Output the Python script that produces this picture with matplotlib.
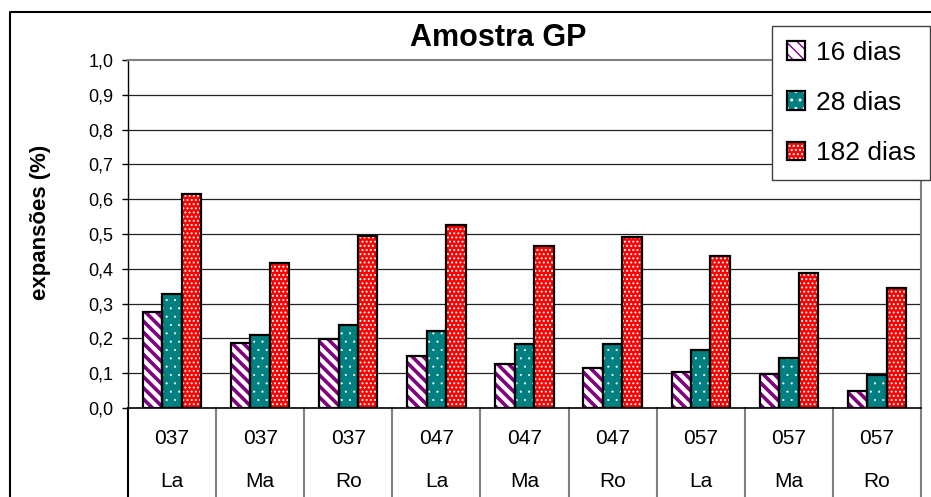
import matplotlib.pyplot as plt
from matplotlib.legend_handler import HandlerTuple
from matplotlib.lines import Line2D
import numpy as np

plt.rcParams['font.family'] = ['Liberation Sans', 'DejaVu Sans']

# data
amostras = ["037", "037", "037", "047", "047", "047", "057", "057", "057"]
locais = ["La", "Ma", "Ro", "La", "Ma", "Ro", "La", "Ma", "Ro"]
series_names = ["16 dias", "28 dias", "182 dias"]
d16 = [0.277, 0.188, 0.199, 0.148, 0.127, 0.116, 0.104, 0.099, 0.050]
d28 = [0.327, 0.209, 0.238, 0.222, 0.183, 0.183, 0.166, 0.145, 0.095]
d182 = [0.615, 0.416, 0.495, 0.527, 0.466, 0.492, 0.438, 0.389, 0.344]
yticks = [0.0, 0.1, 0.2, 0.3, 0.4, 0.5, 0.6, 0.7, 0.8, 0.9, 1.0]

# (face, hatch colour, hatch, hatch linewidth)
styles = [("white", "#800080", "\\\\\\", 2.6),
          ("#008080", "white", "..", 0.3),
          ("#FF0000", "white", "....", 0.9)]

W, H = 931, 497
fig = plt.figure(figsize=(W / 100, H / 100), dpi=100)
ax = fig.add_axes([128 / W, 1 - 408 / H, (921 - 128) / W, (408 - 60) / H])

x = np.arange(len(amostras))
bw = 0.221
handles = []
for i, vals in enumerate([d16, d28, d182]):
    fc, hc, h, hlw = styles[i]
    pos = x + (i - 1) * bw
    with plt.rc_context({'hatch.linewidth': hlw}):
        b1 = ax.bar(pos, vals, bw, color=fc, edgecolor=hc, hatch=h, linewidth=0, zorder=3)
    b2 = ax.bar(pos, vals, bw, fill=False, edgecolor="black", linewidth=1.6, zorder=4)
    handles.append((b1[0], b2[0]))

ax.set_xlim(-0.5, len(amostras) - 0.5)
ax.set_ylim(0, 1.0)
ax.set_yticks(yticks)
ax.set_yticklabels([("%.1f" % v).replace(".", ",") for v in yticks], fontsize=13)
ax.tick_params(axis="y", direction="out", length=4.5, width=1, pad=6)
ax.set_xticks([])
for v in yticks[1:-1]:
    ax.axhline(v, color="#222222", linewidth=0.9, zorder=1)

ax.spines["top"].set_color("#808080")
ax.spines["right"].set_color("#808080")
ax.spines["top"].set_linewidth(1.5)
ax.spines["right"].set_linewidth(1.5)
ax.spines["left"].set_linewidth(1.0)
ax.spines["bottom"].set_linewidth(1.2)

# category table under the axis
trans = ax.get_xaxis_transform()
for k in range(len(amostras) + 1):
    c = "black" if k == 0 else "#808080"
    ax.plot([k - 0.5, k - 0.5], [0, -0.4], color=c, linewidth=1.5,
            transform=trans, clip_on=False)
for k in range(len(amostras)):
    ax.text(k, -0.088, amostras[k], transform=trans, ha="center", va="center", fontsize=15)
    ax.text(k, -0.21, locais[k], transform=trans, ha="center", va="center", fontsize=15)

fig.text(498 / W, 1 - 38 / H, "Amostra GP", ha="center", va="center",
         fontsize=22, fontweight="bold")
fig.text(41 / W, 1 - 222 / H, "expansões (%)", ha="center", va="center",
         rotation=90, fontsize=16, fontweight="bold")

leg = fig.legend(handles, series_names, handler_map={tuple: HandlerTuple(ndivide=1, pad=0)},
                 loc="upper right", bbox_to_anchor=(930 / W, 1 - 26 / H),
                 fontsize=19, frameon=True, fancybox=False, framealpha=1,
                 edgecolor="#404040", handlelength=0.7, handleheight=0.7,
                 handletextpad=0.4, labelspacing=1.0, borderpad=0.55,
                 borderaxespad=0)
leg.get_frame().set_linewidth(1.0)
leg.set_zorder(10)

# outer chart border (left and top)
fig.add_artist(Line2D([10 / W, 10 / W, 1], [0, 1 - 12 / H, 1 - 12 / H],
                      transform=fig.transFigure, color="black", linewidth=1.5))

plt.savefig("out.png", dpi=100)
